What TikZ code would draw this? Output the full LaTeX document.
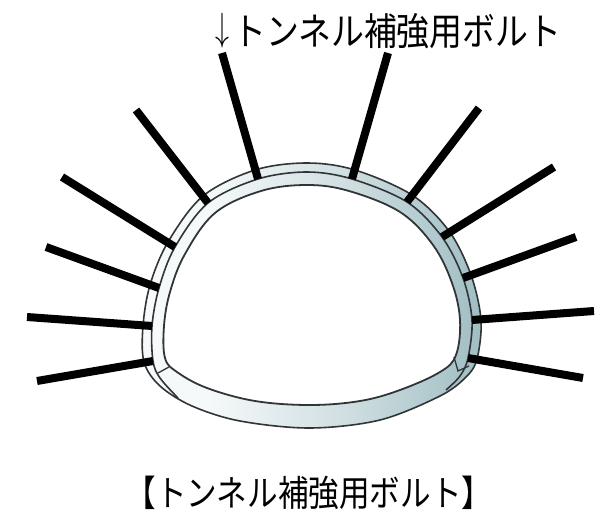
\documentclass[tikz,border=0pt]{standalone}
\usepackage{fontspec}
\newfontfamily\jpfont{Noto Sans CJK JP}
\usetikzlibrary{calc}
\definecolor{liningblue}{RGB}{160,190,195}
\definecolor{edgegray}{RGB}{50,53,55}
\pgfdeclarehorizontalshading{liningshade}{100bp}{%
  color(0bp)=(white!95!liningblue);
  color(35bp)=(white!90!liningblue);
  color(55bp)=(white!50!liningblue);
  color(75bp)=(liningblue);
  color(100bp)=(liningblue)}
\tikzset{
  edge/.style={draw=edgegray, line width=1.6pt},
  bolt/.style={draw=black, line width=8pt, line cap=butt},
  caption/.style={inner sep=0pt, text=black}
}
\begin{document}
\begin{tikzpicture}[x=1pt,y=-1pt]
\useasboundingbox (0,0) rectangle (600,514);

% outer contour of the lining (arch + invert)
\def\outerring{plot[smooth cycle, tension=0.55] coordinates {
  (144,362) (143,326) (150,285) (168,242) (203,196) (255,170) (307,163)
  (355,170) (412,195) (449,231) (471,275) (481,320) (477,359) (466,377)
  (440,396) (380,420) (310,428) (240,421) (192,406) (160,386)}}
% inner opening of the tunnel
\def\innerring{plot[smooth cycle, tension=0.6] coordinates {
  (165,358) (164,326) (170,292) (185,254) (215,213) (261,191) (307,185)
  (349,191) (400,212) (433,245) (452,283) (460,320) (456,355) (440,372)
  (400,390) (360,401) (310,405) (255,401) (207,388) (177,372)}}

% lining body with its tint
\shade[shading=liningshade, even odd rule] \outerring \innerring;
\fill[white] \innerring;

% contour lines
\draw[edge] \outerring;
\draw[edge, line width=1.8pt] \innerring;
% boundary between the outer layer and the lining
\draw[edge] plot[smooth, tension=0.55] coordinates {
  (178,398) (160,378) (153,361) (152,326) (159,288) (175,247) (208,203)
  (258,179) (307,172) (352,179) (407,202) (442,237) (463,278) (472,320)
  (468,358) (460,376) (446,390)};
% joints between arch and invert
\draw[edge, line width=1.3pt] (169,367) -- (158,373);
\draw[edge, line width=1.3pt] (454,357) -- (458,371) -- (469,366);

% rock bolts
\foreach \a/\b in {
  {222,53}/{258,179}, {136,110}/{208,203}, {62,177}/{175,247},
  {46,247}/{159,288}, {27,317}/{152,326}, {37,381}/{153,361},
  {388,53}/{352,179}, {479,108}/{407,202}, {554,167}/{442,237},
  {576,237}/{463,278}, {594,311}/{472,320}, {583,378}/{468,358}}
  \draw[bolt] (\a) -- (\b);

% labels
\node[caption, anchor=base west] (toplabel) at (215,45)
  {\raisebox{5pt}{\resizebox*{14pt}{35pt}{$\downarrow$}}\kern4pt%
   \fontsize{38}{40}\selectfont\scalebox{0.865}[1]{\jpfont トンネル補強用ボルト}};
\node[caption] (bottomlabel) at (309,493)
  {\fontsize{36}{40}\selectfont\scalebox{0.85}[1]{\jpfont 【トンネル補強用ボルト】}};
\end{tikzpicture}
\end{document}
